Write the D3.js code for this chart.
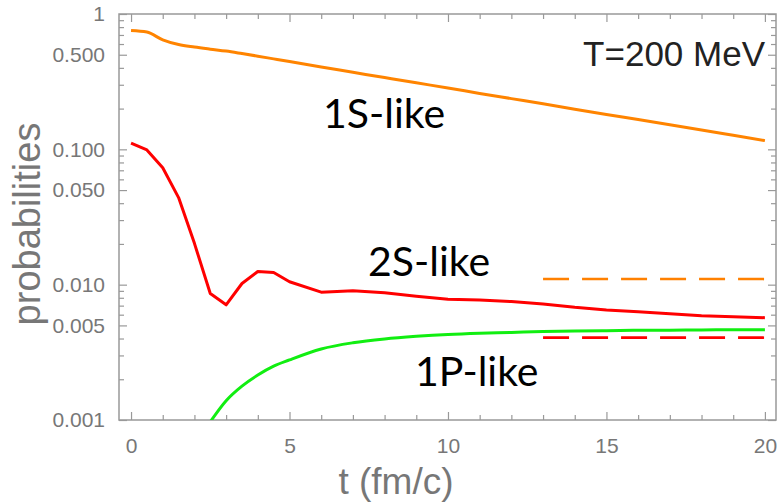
<!DOCTYPE html>
<html>
<head>
<meta charset="utf-8">
<script src="https://cdn.jsdelivr.net/npm/d3@7"></script>
<style>
  body { margin: 0; background: #fff; }
  svg { display: block; }
</style>
</head>
<body>
<div class="chart"></div>
<script>
// 1S-like (orange)
const times1S = [0, 0.5, 1, 1.5, 2, 2.5, 3, 3.5, 4, 4.5, 5, 6, 7, 8, 9, 10, 11, 12, 13, 14, 15, 16, 17, 18, 19, 20];
const prob1S = [0.755, 0.735, 0.645, 0.595, 0.57, 0.55, 0.532, 0.51, 0.488, 0.466, 0.445, 0.406, 0.371, 0.339, 0.31, 0.284, 0.259, 0.237, 0.217, 0.198, 0.181, 0.166, 0.152, 0.139, 0.127, 0.116];

// 2S-like (red)
const times2S = [0, 0.5, 1, 1.5, 2, 2.5, 3, 3.5, 4, 4.5, 5, 6, 7, 8, 9, 10, 11, 12, 13, 14, 15, 16, 17, 18, 19, 20];
const prob2S = [0.111, 0.099, 0.073, 0.044, 0.0202, 0.0086, 0.0071, 0.0102, 0.0125, 0.0123, 0.0105, 0.0088, 0.009, 0.0087, 0.0082, 0.0078, 0.0077, 0.0075, 0.0072, 0.0068, 0.0065, 0.0063, 0.0061, 0.0059, 0.0058, 0.0057];

// 1P-like (green)
const times1P = [2.5, 3, 3.5, 4, 4.5, 5, 6, 7, 8, 9, 10, 11, 12, 13, 14, 15, 16, 17, 18, 19, 20];
const prob1P = [0.00097, 0.00139, 0.00178, 0.00215, 0.0025, 0.00278, 0.00335, 0.00372, 0.00397, 0.00415, 0.00429, 0.00438, 0.00444, 0.0045, 0.00454, 0.00457, 0.0046, 0.00461, 0.00463, 0.00464, 0.00465];

// dashed reference levels
const dashRange = [13, 20];
const dashOrange = 0.011;
const dashRed = 0.00406;

const xMajor = [0, 5, 10, 15, 20];
const yMajor = [0.001, 0.005, 0.01, 0.05, 0.1, 0.5, 1];
const yMajorLabels = ['0.001', '0.005', '0.010', '0.050', '0.100', '0.500', '1'];

const width = 777;
const height = 503;
const frame = { left: 119, right: 776, top: 14, bottom: 420 };

const svg = d3.select('.chart')
  .append('svg')
  .attr('width', width)
  .attr('height', height);

const x = d3.scaleLinear().domain([-0.38, 20.35]).range([frame.left, frame.right]);
const y = d3.scaleLog().domain([0.001, 1]).range([frame.bottom, frame.top]);

const xMinor = d3.range(0, 21).filter(d => d % 5 !== 0);
const yMinor = [];
[0.001, 0.01, 0.1].forEach(dec => {
  for (let k = 2; k <= 9; k++) if (k !== 5) yMinor.push(dec * k);
});

const axisColor = '#999';
const labelColor = '#777';

const styleAxis = (g) => {
  g.select('.domain').remove();
  g.selectAll('line').attr('stroke', axisColor).attr('stroke-width', 1.2);
  g.selectAll('text')
    .attr('fill', labelColor)
    .style('font-family', 'Liberation Sans, Arial, sans-serif')
    .style('font-size', '21px');
};

// bottom
svg.append('g').attr('transform', `translate(0, ${frame.bottom})`)
  .call(d3.axisBottom(x).tickValues(xMajor).tickSize(-8).tickPadding(18).tickFormat(d3.format('d')))
  .call(styleAxis);
svg.append('g').attr('transform', `translate(0, ${frame.bottom})`)
  .call(d3.axisBottom(x).tickValues(xMinor).tickSize(-5).tickFormat(''))
  .call(styleAxis);
// top
svg.append('g').attr('transform', `translate(0, ${frame.top})`)
  .call(d3.axisTop(x).tickValues(xMajor).tickSize(-8).tickFormat(''))
  .call(styleAxis);
svg.append('g').attr('transform', `translate(0, ${frame.top})`)
  .call(d3.axisTop(x).tickValues(xMinor).tickSize(-5).tickFormat(''))
  .call(styleAxis);
// left
svg.append('g').attr('transform', `translate(${frame.left}, 0)`)
  .call(d3.axisLeft(y).tickValues(yMajor).tickSize(-8).tickPadding(14)
    .tickFormat((d, i) => yMajorLabels[i]))
  .call(styleAxis);
svg.append('g').attr('transform', `translate(${frame.left}, 0)`)
  .call(d3.axisLeft(y).tickValues(yMinor).tickSize(-5).tickFormat(''))
  .call(styleAxis);
// right
svg.append('g').attr('transform', `translate(${frame.right}, 0)`)
  .call(d3.axisRight(y).tickValues(yMajor).tickSize(-8).tickFormat(''))
  .call(styleAxis);
svg.append('g').attr('transform', `translate(${frame.right}, 0)`)
  .call(d3.axisRight(y).tickValues(yMinor).tickSize(-5).tickFormat(''))
  .call(styleAxis);

// frame
svg.append('rect')
  .attr('x', frame.left)
  .attr('y', frame.top)
  .attr('width', frame.right - frame.left)
  .attr('height', frame.bottom - frame.top)
  .attr('fill', 'none')
  .attr('stroke', axisColor)
  .attr('stroke-width', 1.5);

svg.append('clipPath').attr('id', 'plot-clip')
  .append('rect')
  .attr('x', frame.left)
  .attr('y', frame.top)
  .attr('width', frame.right - frame.left)
  .attr('height', frame.bottom - frame.top);

const plot = svg.append('g').attr('clip-path', 'url(#plot-clip)');

const zip = (ts, ps) => ts.map((t, i) => ({ t: t, p: ps[i] }));

const smoothLine = d3.line().x(d => x(d.t)).y(d => y(d.p)).curve(d3.curveMonotoneX);
const straightLine = d3.line().x(d => x(d.t)).y(d => y(d.p));

// dashed levels
[[dashOrange, '#ff8000'], [dashRed, '#ff0000']].forEach(([level, color]) => {
  plot.append('path')
    .datum(dashRange.map(t => ({ t: t, p: level })))
    .attr('fill', 'none')
    .attr('stroke', color)
    .attr('stroke-width', 2.6)
    .attr('stroke-dasharray', '26 13')
    .attr('d', straightLine);
});

plot.append('path')
  .datum(zip(times1P, prob1P))
  .attr('fill', 'none')
  .attr('stroke', '#11ee11')
  .attr('stroke-width', 3)
  .attr('d', smoothLine);

plot.append('path')
  .datum(zip(times2S, prob2S))
  .attr('fill', 'none')
  .attr('stroke', '#ff0000')
  .attr('stroke-width', 3)
  .attr('stroke-linejoin', 'round')
  .attr('d', straightLine);

plot.append('path')
  .datum(zip(times1S, prob1S))
  .attr('fill', 'none')
  .attr('stroke', '#ff8400')
  .attr('stroke-width', 3)
  .attr('d', smoothLine);

// annotations
const annot = (txt, px, py) => svg.append('text')
  .attr('x', px).attr('y', py)
  .attr('fill', '#000')
  .style('font-family', 'Lato, sans-serif')
  .style('font-size', '41px')
  .text(txt);

annot('1S-like', 323, 128);
annot('2S-like', 368, 276);
annot('1P-like', 415, 386);

svg.append('text')
  .attr('x', 765).attr('y', 66)
  .attr('text-anchor', 'end')
  .attr('fill', '#222')
  .style('font-family', 'Liberation Sans, Arial, sans-serif')
  .style('font-size', '35px')
  .text('T=200 MeV');

// axis titles
svg.append('text')
  .attr('transform', `translate(40, 224) rotate(-90)`)
  .attr('text-anchor', 'middle')
  .attr('fill', labelColor)
  .style('font-family', 'Liberation Sans, Arial, sans-serif')
  .style('font-size', '38px')
  .text('probabilities');

svg.append('text')
  .attr('x', 396).attr('y', 494)
  .attr('text-anchor', 'middle')
  .attr('fill', labelColor)
  .style('font-family', 'Liberation Sans, Arial, sans-serif')
  .style('font-size', '37px')
  .text('t (fm/c)');
</script>
</body>
</html>
